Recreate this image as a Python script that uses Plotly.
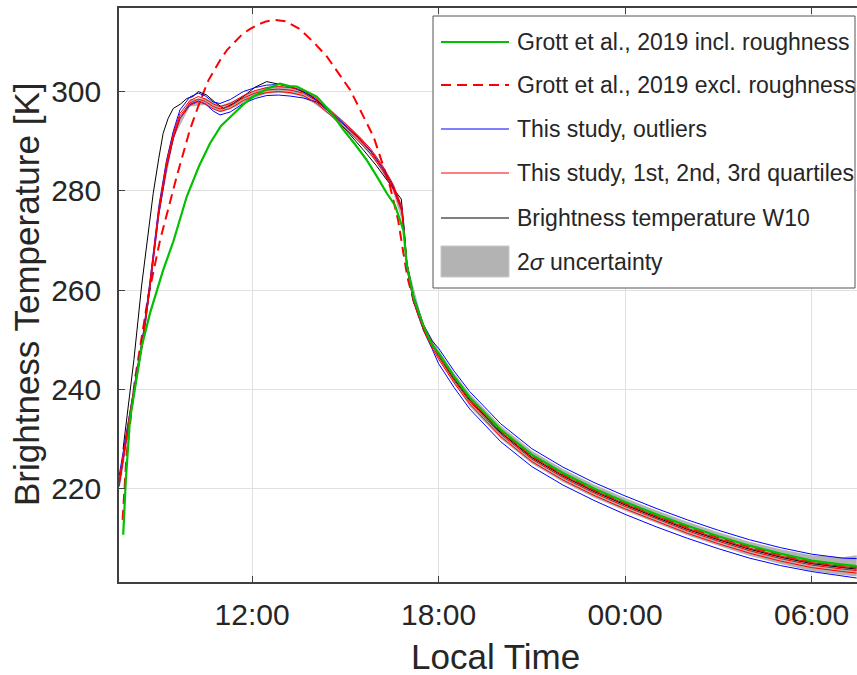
import plotly.graph_objects as go

# ---------------- data (local time in hours; >24 = next day) ----------------
study_hours = [7.72, 8.07, 8.5, 8.7, 9.0, 9.25, 9.47, 9.68, 10.0, 10.27, 10.5, 10.75, 10.97, 11.3,
               11.72, 12.1, 12.47, 12.85, 13.22, 13.65, 14.08, 14.5, 14.94, 15.37, 15.8, 16.2,
               16.55, 16.82, 16.9, 16.98, 17.2, 17.52, 17.79,
               18.0, 18.5, 19.0, 20.0, 21.0, 22.0, 23.0, 24.0, 25.0, 26.0, 27.0, 28.0, 29.0,
               30.0, 31.0, 31.45]

outlier_upper = [222.5, 235.5, 251.4, 261.0, 276.8, 286.1, 292.0, 296.2, 298.8, 299.6, 299.0, 297.8,
                 297.5, 298.3, 299.9, 300.7, 301.2, 301.3, 301.0, 299.9, 298.2, 296.0, 293.5, 291.0,
                 288.1, 284.6, 280.8, 276.4, 271.0, 265.5, 258.8, 253.0, 249.8,
                 248.3, 243.7, 239.6, 233.1, 228.1, 224.4, 221.3, 218.6, 216.1, 213.8, 211.7, 209.8,
                 208.2, 206.9, 206.1, 206.0]

outlier_lower = [220.5, 234.5, 250.0, 259.5, 275.0, 284.5, 290.5, 294.5, 297.3, 298.0, 297.4, 296.0,
                 295.2, 295.8, 297.5, 298.5, 299.1, 299.2, 299.0, 298.6, 297.8, 295.8, 293.3, 290.8,
                 288.0, 284.4, 280.5, 276.0, 270.5, 264.5, 257.5, 251.8, 248.2,
                 245.2, 240.4, 236.1, 229.5, 224.5, 220.8, 217.7, 214.9, 212.4, 210.1, 208.0, 206.1,
                 204.6, 203.4, 202.5, 202.1]

quartile_1 = [220.5, 234.3, 250.1, 259.7, 275.3, 284.8, 290.5, 294.5, 297.1, 297.9, 297.4, 296.4,
              295.9, 296.5, 298.1, 299.1, 299.7, 299.9, 299.7, 299.1, 297.5, 295.3, 292.8, 290.3,
              287.5, 284.0, 280.1, 275.7, 270.3, 264.5, 257.5, 251.8, 248.4,
              246.1, 241.3, 237.1, 230.5, 225.5, 221.8, 218.7, 216.0, 213.5, 211.1, 209.0, 207.1,
              205.5, 204.2, 203.4, 203.1]

quartile_2 = [221.0, 234.8, 250.6, 260.2, 275.8, 285.3, 291.0, 295.0, 297.6, 298.4, 297.9, 296.9,
              296.4, 297.0, 298.6, 299.6, 300.2, 300.4, 300.2, 299.6, 298.0, 295.8, 293.3, 290.8,
              288.0, 284.5, 280.6, 276.2, 270.8, 265.0, 258.0, 252.3, 248.9,
              246.6, 241.8, 237.6, 231.0, 226.0, 222.3, 219.2, 216.5, 214.0, 211.6, 209.5, 207.6,
              206.0, 204.7, 203.9, 203.6]

quartile_3 = [221.5, 235.3, 251.1, 260.7, 276.3, 285.8, 291.5, 295.5, 298.1, 298.9, 298.4, 297.4,
              296.9, 297.5, 299.1, 300.1, 300.7, 300.9, 300.7, 300.1, 298.5, 296.3, 293.8, 291.3,
              288.5, 285.0, 281.1, 276.7, 271.3, 265.5, 258.5, 252.8, 249.4,
              247.1, 242.3, 238.1, 231.5, 226.5, 222.8, 219.7, 217.0, 214.5, 212.1, 210.0, 208.1,
              206.5, 205.2, 204.4, 204.1]

band_hours = [7.76, 8.5, 9.0, 9.5, 10.0, 10.5, 11.0, 11.5, 12.0, 12.5, 13.0, 13.5, 14.0, 14.5, 15.0,
              15.5, 16.0, 16.5, 16.85, 17.0, 17.5, 18.0, 18.5, 19.0, 20.0, 21.0, 22.0, 23.0, 24.0,
              25.0, 26.0, 27.0, 28.0, 29.0, 30.0, 31.0, 31.45]
band_low = [220.5, 249.9, 275.1, 290.9, 296.9, 297.2, 295.7, 296.9, 298.5, 299.5, 299.6, 299.1, 297.5,
            295.1, 292.3, 289.3, 285.6, 280.5, 273.3, 263.8, 251.9, 246.2, 241.3, 236.6, 230.1,
            225.1, 221.4, 218.3, 215.6, 213.1, 210.7, 208.6, 206.6, 204.9, 203.5, 202.7, 202.4]
band_high = [222.1, 251.3, 276.5, 292.3, 298.3, 298.6, 297.1, 298.3, 299.9, 300.9, 301.0, 300.5, 298.9,
             296.5, 293.7, 290.7, 287.0, 281.9, 274.7, 265.2, 253.3, 248.0, 243.3, 239.2, 232.7,
             227.7, 224.0, 220.9, 218.2, 215.7, 213.4, 211.3, 209.4, 207.9, 206.7, 206.3, 206.7]

w10_hours = [7.85, 8.016, 8.2, 8.45, 8.65, 8.82, 9.0, 9.14, 9.3, 9.465, 9.7, 9.9, 10.1, 10.27, 10.54,
             10.8, 11.08, 11.4, 11.72, 12.1, 12.47, 13.0, 13.4, 13.87, 14.3, 14.73, 15.16, 15.59,
             16.0, 16.34, 16.6, 16.8, 16.9, 16.98, 17.2, 17.52, 17.79,
             18.0, 18.5, 19.0, 20.0, 21.0, 22.0, 23.0, 24.0, 25.0, 26.0, 27.0, 28.0, 29.0, 30.0,
             31.0, 31.45]
w10_temp = [228.0, 236.5, 246.0, 261.0, 271.0, 279.4, 286.5, 291.5, 294.5, 296.5, 297.4, 298.5, 298.9,
            299.9, 299.2, 297.8, 296.5, 297.5, 298.9, 300.8, 301.9, 301.2, 300.5, 299.2, 297.0, 294.2,
            291.2, 288.1, 285.0, 282.1, 280.0, 278.3, 272.0, 265.3, 258.3, 252.6, 249.0,
            246.9, 242.1, 237.9, 231.3, 226.3, 222.6, 219.5, 216.8, 214.3, 211.9, 209.8, 207.9,
            206.3, 205.0, 204.2, 203.9]

grott_incl_hours = [7.855, 7.94, 8.07, 8.29, 8.45, 8.72, 8.85, 9.0, 9.14, 9.47, 9.9, 10.3, 10.65, 11.0,
                    11.4, 11.72, 12.04, 12.47, 12.9, 13.2, 13.44, 13.75, 14.08, 14.5, 14.94, 15.3,
                    15.69, 16.0, 16.34, 16.6, 16.77, 16.87, 16.98, 17.2, 17.52, 17.79,
                    18.0, 18.5, 19.0, 20.0, 21.0, 22.0, 23.0, 24.0, 25.0, 26.0, 27.0, 28.0, 29.0,
                    30.0, 31.0, 31.45]
grott_incl_temp = [210.8, 221.8, 233.9, 241.9, 248.6, 255.4, 258.0, 261.5, 264.0, 269.8, 278.8, 285.0,
                   289.5, 293.0, 295.5, 297.3, 298.9, 300.4, 301.5, 301.0, 300.9, 300.0, 298.9, 296.0,
                   292.2, 289.4, 286.1, 283.0, 279.4, 277.0, 274.1, 272.0, 265.0, 258.4, 252.7, 249.0,
                   247.3, 242.6, 238.4, 231.9, 226.9, 223.2, 220.1, 217.4, 214.9, 212.6, 210.5, 208.6,
                   207.0, 205.6, 204.8, 204.5]

grott_excl_hours = [7.836, 7.96, 8.23, 8.66, 9.04, 9.575, 10.0, 10.33, 10.6, 10.97, 11.2, 11.45, 11.7,
                    11.94, 12.2, 12.45, 12.75, 13.1, 13.55, 14.0, 14.41, 15.16, 15.91, 16.44, 16.7,
                    16.87, 17.0, 17.2, 17.52, 17.79,
                    18.0, 18.5, 19.0, 20.0, 21.0, 22.0, 23.0, 24.0, 25.0, 26.0, 27.0, 28.0, 29.0,
                    30.0, 31.0, 31.45]
grott_excl_temp = [213.8, 226.5, 241.9, 258.7, 270.0, 282.8, 292.2, 298.0, 302.2, 306.2, 308.3, 310.0,
                   311.5, 312.5, 313.4, 314.0, 314.3, 314.0, 312.4, 309.7, 306.9, 300.2, 290.8, 280.8,
                   274.0, 267.4, 262.5, 257.7, 252.4, 248.9,
                   247.2, 242.5, 238.3, 231.7, 226.7, 223.0, 219.9, 217.2, 214.7, 212.4, 210.3, 208.4,
                   206.8, 205.4, 204.6, 204.3]

tick_hours = [12, 18, 24, 30]
tick_labels = ["12:00", "18:00", "00:00", "06:00"]
y_ticks = [220, 240, 260, 280, 300]

legend_labels = ["Grott et al., 2019 incl. roughness",
                 "Grott et al., 2019 excl. roughness",
                 "This study, outliers",
                 "This study, 1st, 2nd, 3rd quartiles",
                 "Brightness temperature W10",
                 "2<i>σ</i> uncertainty"]

# ---------------- styling ----------------
GREEN = "#00c000"
RED = "#ff0000"
BLUE = "#0000ff"
BLACK = "#000000"
GRAY = "#b3b3b3"
AX = "#404040"
TXT = "#262626"
FONT = "Arial, Liberation Sans, sans-serif"

W, H = 857, 675
ML, MR, MT, MB = 119, 0, 8, 93
PW, PH = W - ML - MR, H - MT - MB


def px(xp):
    return (xp - ML) / PW


def py(yp):
    return (H - MB - yp) / PH


fig = go.Figure()

# 2-sigma band
fig.add_trace(go.Scatter(x=band_hours + band_hours[::-1], y=band_low + band_high[::-1],
                         fill="toself", fillcolor=GRAY, line=dict(width=0), mode="lines",
                         hoverinfo="skip"))
fig.add_trace(go.Scatter(x=grott_excl_hours, y=grott_excl_temp, mode="lines",
                         line=dict(color=RED, width=2, dash="10px,6px")))
fig.add_trace(go.Scatter(x=w10_hours, y=w10_temp, mode="lines", line=dict(color=BLACK, width=1)))
for series in (outlier_upper, outlier_lower):
    fig.add_trace(go.Scatter(x=study_hours, y=series, mode="lines", line=dict(color=BLUE, width=1)))
for series in (quartile_1, quartile_2, quartile_3):
    fig.add_trace(go.Scatter(x=study_hours, y=series, mode="lines", line=dict(color=RED, width=1)))
fig.add_trace(go.Scatter(x=grott_incl_hours, y=grott_incl_temp, mode="lines",
                         line=dict(color=GREEN, width=2.2)))

fig.update_layout(
    width=W, height=H, margin=dict(l=ML, r=MR, t=MT, b=MB, autoexpand=False),
    plot_bgcolor="white", paper_bgcolor="white", showlegend=False,
    font=dict(family=FONT, color=TXT),
)
fig.update_xaxes(range=[7.72, 31.46], tickvals=tick_hours, ticktext=tick_labels,
                 ticks="inside", ticklen=6, tickwidth=1.2, tickcolor=AX,
                 showline=True, linecolor=AX, linewidth=1.5, mirror="ticks",
                 showgrid=True, gridcolor="#e0e0e0", gridwidth=1, zeroline=False,
                 tickfont=dict(size=30, family=FONT, color=TXT), ticklabelstandoff=5,
                 automargin=False)
fig.update_yaxes(range=[201.3, 316.7], tickvals=y_ticks,
                 ticks="inside", ticklen=6, tickwidth=1.2, tickcolor=AX,
                 showline=True, linecolor=AX, linewidth=1.5, mirror=False,
                 showgrid=True, gridcolor="#e0e0e0", gridwidth=1, zeroline=False,
                 tickfont=dict(size=30, family=FONT, color=TXT), ticklabelstandoff=10,
                 automargin=False)

shapes = []
annotations = []
# legend box
shapes.append(dict(type="rect", xref="paper", yref="paper", x0=px(433), x1=px(855),
                   y0=py(288), y1=py(16), fillcolor="white", line=dict(color="#555555", width=1),
                   layer="above"))
row_y = [42, 85, 129, 173, 218, 262]
row_styles = [dict(color=GREEN, width=2.2), dict(color=RED, width=2, dash="10px,6px"),
              dict(color=BLUE, width=1), dict(color=RED, width=1), dict(color=BLACK, width=1)]
for yy, st in zip(row_y[:5], row_styles):
    shapes.append(dict(type="line", xref="paper", yref="paper", x0=px(441), x1=px(509),
                       y0=py(yy), y1=py(yy), line=st, layer="above"))
shapes.append(dict(type="rect", xref="paper", yref="paper", x0=px(441), x1=px(509),
                   y0=py(277), y1=py(246), fillcolor=GRAY, line=dict(color="#c8c8c8", width=1),
                   layer="above"))
for yy, lab in zip(row_y, legend_labels):
    annotations.append(dict(text=lab, xref="paper", yref="paper", x=px(515), y=py(yy),
                            xanchor="left", yanchor="middle", showarrow=False,
                            font=dict(size=23, family=FONT, color=TXT)))
# axis titles
annotations.append(dict(text="Local Time", xref="paper", yref="paper", x=px(496), y=py(656),
                        xanchor="center", yanchor="middle", showarrow=False,
                        font=dict(size=35, family=FONT, color=TXT)))
annotations.append(dict(text="Brightness Temperature [K]", xref="paper", yref="paper", x=px(26),
                        y=py(295), xanchor="center", yanchor="middle", textangle=-90,
                        showarrow=False, font=dict(size=35, family=FONT, color=TXT)))

fig.update_layout(shapes=shapes, annotations=annotations)
fig.write_html("out.html", config={"displayModeBar": False},
               post_script="document.body.style.margin='0';document.body.style.overflow='hidden';")
